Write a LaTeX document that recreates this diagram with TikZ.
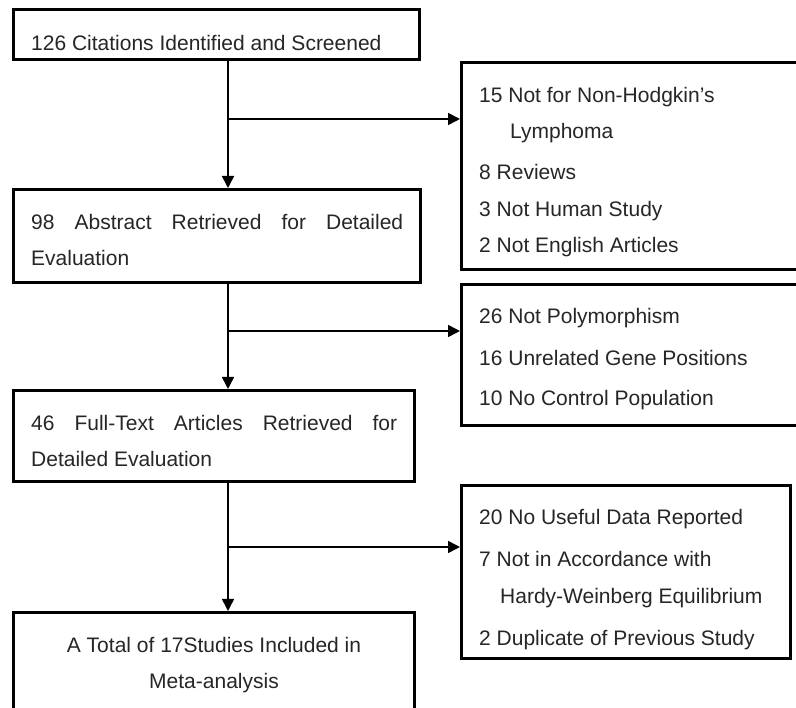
\documentclass[tikz,border=0pt]{standalone}
\usepackage{fontspec}
\setmainfont{Liberation Sans}
\usetikzlibrary{arrows.meta}
\begin{document}
\begin{tikzpicture}[x=1pt,y=-1pt,
  box/.style={draw=black, line width=3pt, fill=white, inner sep=0pt, rectangle},
  txt/.style={inner sep=0pt, font=\fontsize{21}{25}\selectfont, text=black!85},
  arr/.style={line width=1.6pt, -{Triangle[width=12pt,length=12pt]}},
]
\useasboundingbox (0,0) rectangle (796,708);
\clip (0,0) rectangle (796,708);
\fill[white] (0,0) rectangle (796,708);
% left boxes
\node[box, minimum width=406pt, minimum height=50pt] (b1) at (216.5,34.5) {};
\node[box, minimum width=407pt, minimum height=93pt] (b2) at (217,236) {};
\node[box, minimum width=401pt, minimum height=91pt] (b3) at (214,436) {};
\node[box, minimum width=401pt, minimum height=107.5pt] (b4) at (214,666.25) {};
% right boxes
\node[box, minimum width=348.5pt, minimum height=207pt] (r1) at (635.75,166) {};
\node[box, minimum width=348.5pt, minimum height=141pt] (r2) at (635.75,355) {};
\node[box, minimum width=329pt, minimum height=173pt] (r3) at (626,572) {};
% texts
\node[txt, anchor=base west] (t1) at (31,51) {126 Citations Identified and Screened};
\node[txt, anchor=base west] (t2a) at (31,230) {\hbox to 372pt{98\hfill Abstract\hfill Retrieved\hfill for\hfill Detailed}};
\node[txt, anchor=base west] (t2b) at (31,266) {Evaluation};
\node[txt, anchor=base west] (t3a) at (31,431) {\hbox to 366pt{46\hfill Full-Text\hfill Articles\hfill Retrieved\hfill for}};
\node[txt, anchor=base west] (t3b) at (31,467) {Detailed Evaluation};
\node[txt, anchor=base] (t4a) at (214,652) {A Total of 17Studies Included in};
\node[txt, anchor=base] (t4b) at (214,688) {Meta-analysis};
\node[txt, anchor=base west] (r1a) at (479,103) {15 Not for Non-Hodgkin's};
\node[txt, anchor=base west] (r1b) at (510,139) {Lymphoma};
\node[txt, anchor=base west] (r1c) at (479,180) {8 Reviews};
\node[txt, anchor=base west] (r1d) at (479,217) {3 Not Human Study};
\node[txt, anchor=base west] (r1e) at (479,253) {2 Not English Articles};
\node[txt, anchor=base west] (r2a) at (479,324) {26 Not Polymorphism};
\node[txt, anchor=base west] (r2b) at (479,366) {16 Unrelated Gene Positions};
\node[txt, anchor=base west] (r2c) at (479,406) {10 No Control Population};
\node[txt, anchor=base west] (r3a) at (479,525) {20 No Useful Data Reported};
\node[txt, anchor=base west] (r3b) at (479,567) {7 Not in Accordance with};
\node[txt, anchor=base west] (r3c) at (500,604) {Hardy-Weinberg Equilibrium};
\node[txt, anchor=base west] (r3d) at (479,645) {2 Duplicate of Previous Study};
% connectors
\coordinate (spine) at (228,0);
\coordinate (j1) at (228,119);
\coordinate (j2) at (228,331);
\coordinate (j3) at (228,547);
\draw[arr] (b1.south -| spine) -- (b2.north -| spine);
\draw[arr] (b2.south -| spine) -- (b3.north -| spine);
\draw[arr] (b3.south -| spine) -- (b4.north -| spine);
\draw[arr] (j1) -- (j1 -| r1.west);
\draw[arr] (j2) -- (j2 -| r2.west);
\draw[arr] (j3) -- (j3 -| r3.west);
\end{tikzpicture}
\end{document}
